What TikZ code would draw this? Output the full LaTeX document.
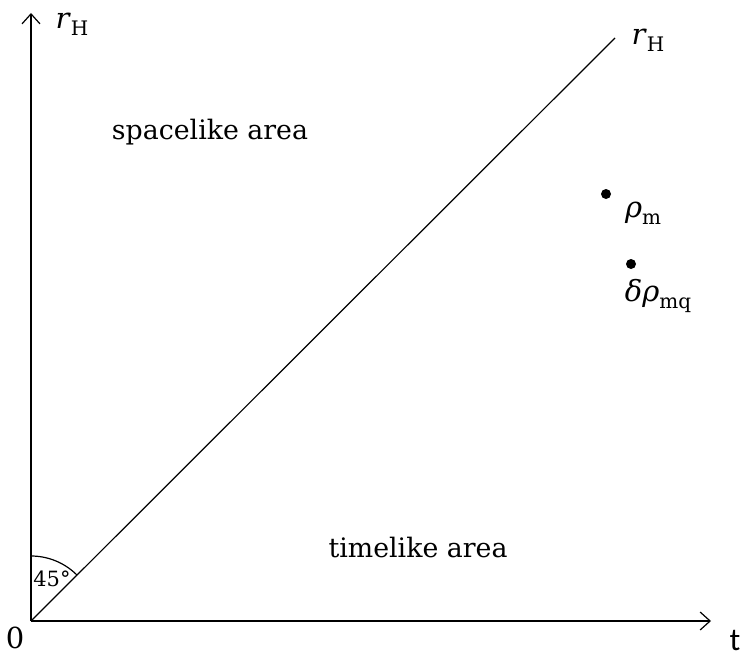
\documentclass[tikz,border=0pt]{standalone}
\usepackage{fontspec}
\setmainfont{DejaVu Serif}
\newfontfamily\tfont{Carlito}
\usetikzlibrary{arrows.meta}
\newcommand{\lowsub}[1]{\raisebox{-0.45ex}{\fontsize{10}{12}\selectfont #1}}
\tikzset{
  axis/.style={line width=0.6pt,-{Straight Barb[length=5pt,width=9pt]}},
  lbl/.style={inner sep=0pt,font=\fontsize{13.4}{16}\selectfont},
  dotm/.style={circle,fill=black,inner sep=0pt,minimum size=5pt}
}
\begin{document}
\begin{tikzpicture}[x=0.5pt,y=-0.5pt]
\useasboundingbox (0,0) rectangle (744,658);
\coordinate (O) at (31,621);
\coordinate (ytop) at (31,13);
\coordinate (xend) at (711,621);
\coordinate (dtop) at (615,38);
\draw[axis] (O) -- (ytop);
\draw[axis] (O) -- (xend);
\draw[line width=0.6pt] (O) -- (dtop);
\draw[line width=0.6pt] (31,556) arc[start angle=-90,end angle=-45,radius=65];
\node[lbl,font=\fontsize{14.5}{17}\selectfont] (ry) at (72,24) {\textit{r}\lowsub{H}};
\node[lbl,font=\fontsize{14.5}{17}\selectfont] (rd) at (648,40) {\textit{r}\lowsub{H}};
\node[lbl] (sp) at (210,132) {spacelike area};
\node[lbl] (tl) at (418,548) {timelike area};
\node[lbl,font=\fontsize{10.5}{12}\selectfont] (ang) at (52,579) {45°};
\node[lbl,font=\fontsize{14.5}{16}\selectfont] (zero) at (15,638) {0};
\node[lbl,font=\tfont\fontsize{16}{18}\selectfont] (tt) at (735,640) {t};
\node[dotm] (d1) at (606,194) {};
\node[dotm] (d2) at (631,264) {};
\node[lbl,font=\fontsize{14.5}{17}\selectfont] (rhom) at (643,213) {\textit{ρ}\lowsub{m}};
\node[lbl,font=\fontsize{14.5}{17}\selectfont] (drho) at (658,296) {\textit{δρ}\lowsub{mq}};
\end{tikzpicture}
\end{document}
